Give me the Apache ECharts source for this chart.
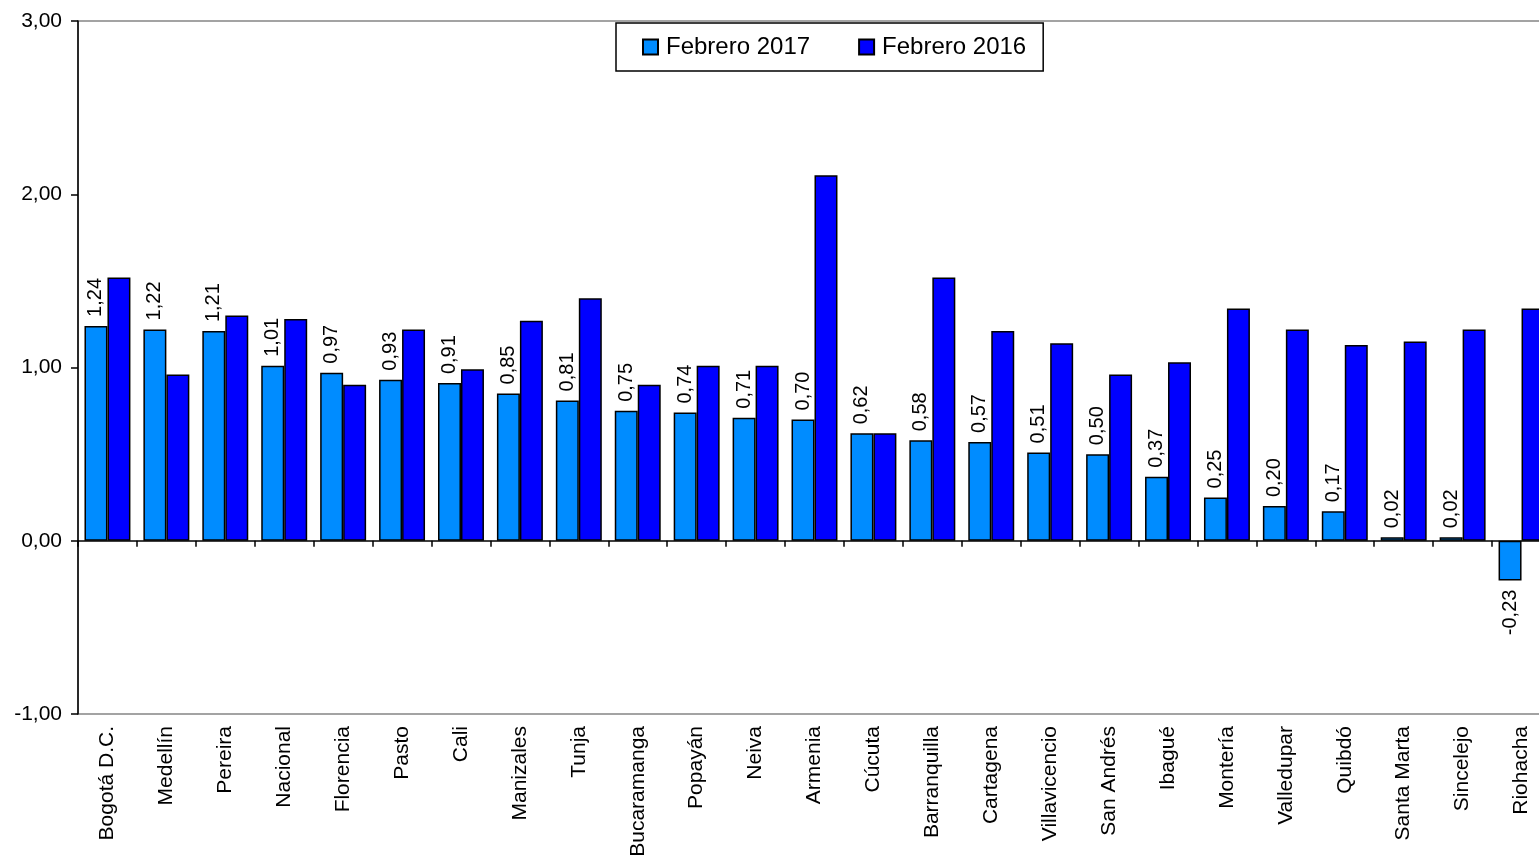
<!DOCTYPE html>
<html>
<head>
<meta charset="utf-8">
<title>Variación mensual por ciudad</title>
<script src="https://cdn.jsdelivr.net/npm/echarts@6/dist/echarts.min.js"></script>
<style>
  html, body { margin: 0; padding: 0; background: #fff; }
  #chart { width: 1539px; height: 864px; }
</style>
</head>
<body>
<div id="chart"></div>
<script>
// Cities, in the order they are plotted
const cities = ['Bogotá D.C.', 'Medellín', 'Pereira', 'Nacional', 'Florencia', 'Pasto', 'Cali', 'Manizales', 'Tunja', 'Bucaramanga', 'Popayán', 'Neiva', 'Armenia', 'Cúcuta', 'Barranquilla', 'Cartagena', 'Villavicencio', 'San Andrés', 'Ibagué', 'Montería', 'Valledupar', 'Quibdó', 'Santa Marta', 'Sincelejo', 'Riohacha'];

// Monthly variation (%) for February 2017
const febrero2017 = [1.24, 1.22, 1.21, 1.01, 0.97, 0.93, 0.91, 0.85, 0.81, 0.75, 0.74, 0.71, 0.70, 0.62, 0.58, 0.57, 0.51, 0.50, 0.37, 0.25, 0.20, 0.17, 0.02, 0.02, -0.23];

// Monthly variation (%) for February 2016
const febrero2016 = [1.52, 0.96, 1.30, 1.28, 0.90, 1.22, 0.99, 1.27, 1.40, 0.90, 1.01, 1.01, 2.11, 0.62, 1.52, 1.21, 1.14, 0.96, 1.03, 1.34, 1.22, 1.13, 1.15, 1.22, 1.34];

// Value axis range and step
const yMin = -1;
const yMax = 3;
const yStep = 1;

const seriesNames = ['Febrero 2017', 'Febrero 2016'];

const FONT = 'Arial, "Liberation Sans", sans-serif';
const fmt = v => v.toFixed(2).replace('.', ',');
const every = () => true;

// Labels above positive bars, below negative ones
const data2017 = febrero2017.map(v => v < 0
  ? { value: v, label: { position: 'bottom', align: 'right' } }
  : v);

const chart = echarts.init(document.getElementById('chart'), null, { renderer: 'canvas' });

chart.setOption({
  animation: false,
  backgroundColor: '#ffffff',
  textStyle: { fontFamily: FONT },
  grid: {
    left: 78,
    top: 21,
    right: -12,
    bottom: 150,
    containLabel: false,
    outerBoundsMode: 'none',
    show: true,
    borderColor: '#858585',
    borderWidth: 1.5,
    backgroundColor: 'transparent'
  },
  legend: {
    data: seriesNames,
    left: 616,
    top: 23,
    orient: 'horizontal',
    padding: [12, 17, 12, 26],
    itemGap: 48,
    itemWidth: 15,
    itemHeight: 15,
    backgroundColor: '#ffffff',
    borderColor: '#000000',
    borderWidth: 1.5,
    borderRadius: 0,
    icon: 'rect',
    textStyle: { fontFamily: FONT, fontSize: 24, color: '#000', padding: [0, 0, 0, 3] }
  },
  xAxis: [
    {
      // Baseline at zero with tick marks between categories
      type: 'category',
      data: cities,
      position: 'top',
      axisLine: { show: true, onZero: true, lineStyle: { color: '#000', width: 1.5 } },
      axisTick: { show: true, interval: every, inside: true, length: 6, lineStyle: { color: '#000', width: 1.5 } },
      axisLabel: { show: false, interval: every },
      splitLine: { show: false }
    },
    {
      // Category names along the bottom of the plot
      type: 'category',
      data: cities,
      position: 'bottom',
      axisLine: { show: false, onZero: false },
      axisTick: { show: false },
      axisLabel: {
        rotate: 90,
        margin: 12,
        interval: every,
        fontFamily: FONT,
        fontSize: 21,
        color: '#000'
      },
      splitLine: { show: false }
    }
  ],
  yAxis: {
    type: 'value',
    min: yMin,
    max: yMax,
    interval: yStep,
    axisLine: { show: true, lineStyle: { color: '#000', width: 1.5 } },
    axisTick: { show: true, length: 7, lineStyle: { color: '#000', width: 1.5 } },
    axisLabel: {
      formatter: v => fmt(v),
      margin: 16,
      fontFamily: FONT,
      fontSize: 21,
      color: '#000'
    },
    splitLine: { show: false }
  },
  series: [
    {
      name: seriesNames[0],
      type: 'bar',
      xAxisIndex: 0,
      data: data2017,
      barGap: '0%',
      barCategoryGap: '22%',
      itemStyle: { color: '#008cff', borderColor: '#000', borderWidth: 1.5 },
      label: {
        show: true,
        position: 'top',
        rotate: 90,
        align: 'left',
        verticalAlign: 'middle',
        distance: 9,
        formatter: p => fmt(p.value),
        fontFamily: FONT,
        fontSize: 20,
        color: '#000'
      }
    },
    {
      name: seriesNames[1],
      type: 'bar',
      xAxisIndex: 0,
      data: febrero2016,
      barGap: '0%',
      barCategoryGap: '22%',
      itemStyle: { color: '#0000ff', borderColor: '#000', borderWidth: 1.5 }
    }
  ]
});
</script>
</body>
</html>
